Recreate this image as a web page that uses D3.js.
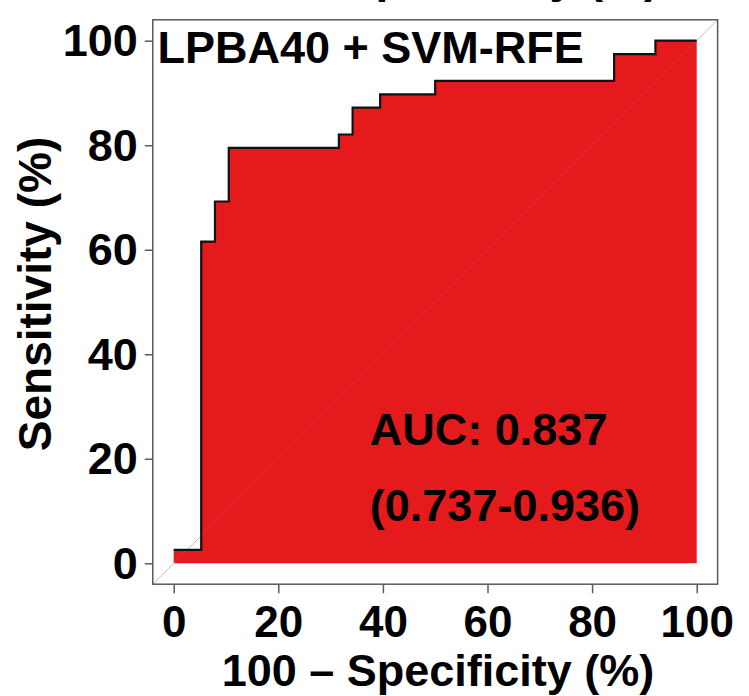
<!DOCTYPE html>
<html>
<head>
<meta charset="utf-8">
<script src="https://cdn.jsdelivr.net/npm/d3@7"></script>
<style>
  body { margin: 0; background: #fff; }
  text { font-family: "Liberation Sans", Arial, sans-serif; font-weight: bold; }
</style>
</head>
<body>
<svg id="chart"></svg>
<script>
// Overall dimension of the canvas
const width = 749;
const height = 696;

// ROC curve (percent), step after each point
const fprPct = [0, 5.26, 7.89, 10.53, 31.58, 34.21, 39.47, 50.00, 84.21, 92.11, 100];
const tprPct = [2.56, 61.54, 69.23, 79.49, 82.05, 87.18, 89.74, 92.31, 97.44, 100, 100];

// Tick labels
const xTicks = [0, 20, 40, 60, 80, 100];
const yTicks = [0, 20, 40, 60, 80, 100];

// Annotations
const panelTitle = "LPBA40 + SVM-RFE";
const aucLines = ["AUC: 0.837", "(0.737-0.936)"];
const xTitle = "100 \u2013 Specificity (%)";
const yTitle = "Sensitivity (%)";

// Plot region (R style: 4% padding around 0..100)
let plotLeft = 173.7, plotRight = 696.7, plotTop = 40.7, plotBottom = 563.3;

var x = d3.scaleLinear().domain([0, 100]).range([plotLeft, plotRight]);
var y = d3.scaleLinear().domain([0, 100]).range([plotBottom, plotTop]);

const svg = d3.select("#chart")
    .attr("width", width)
    .attr("height", height);

svg.append("rect")
    .attr("width", width)
    .attr("height", height)
    .attr("fill", "#fff");

// descenders of the x title from the panel above peeking in at the top
svg.append("text")
    .attr("x", (plotLeft + plotRight) / 2 + 3)
    .attr("y", -8)
    .attr("text-anchor", "middle")
    .style("font-size", "46px")
    .text(xTitle);

// diagonal reference line across the whole box
svg.append("line")
    .attr("x1", x(-4)).attr("y1", y(-4))
    .attr("x2", x(104)).attr("y2", y(104))
    .attr("stroke", "#bdbdbd")
    .attr("stroke-width", 1);

const rocData = fprPct.map((d, i) => ({ fpr: d, tpr: tprPct[i] }));

// filled area under the curve
svg.append("path")
    .datum(rocData)
    .attr("fill", "#e41a1c")
    .attr("d", d3.area()
        .curve(d3.curveStepAfter)
        .x(d => x(d.fpr))
        .y0(y(0))
        .y1(d => y(d.tpr)));

// faint seam of the diagonal through the fill
svg.append("line")
    .attr("x1", x(-4)).attr("y1", y(-4))
    .attr("x2", x(104)).attr("y2", y(104))
    .attr("stroke", "#ffffff")
    .attr("stroke-opacity", 0.12)
    .attr("stroke-width", 1);

// the ROC step line
svg.append("path")
    .datum(rocData)
    .attr("fill", "none")
    .attr("stroke", "#111")
    .attr("stroke-width", 2.2)
    .attr("d", d3.line()
        .curve(d3.curveStepAfter)
        .x(d => x(d.fpr))
        .y(d => y(d.tpr)));

// box
svg.append("rect")
    .attr("x", x(-4))
    .attr("y", y(104))
    .attr("width", x(104) - x(-4))
    .attr("height", y(-4) - y(104))
    .attr("fill", "none")
    .attr("stroke", "#5a5a5a")
    .attr("stroke-width", 1.5);

// X axis
const xAxis = svg.append("g")
    .attr("transform", "translate(0," + y(-4) + ")")
    .call(d3.axisBottom(x).tickValues(xTicks).tickSize(9).tickPadding(13).tickFormat(d3.format("d")));
xAxis.select(".domain").remove();
xAxis.selectAll(".tick line").attr("stroke", "#5a5a5a").attr("stroke-width", 1.5);
xAxis.selectAll(".tick text")
    .attr("fill", "#000")
    .style("font-size", "44px")
    .attr("dy", "0.71em");

// Y axis
const yAxis = svg.append("g")
    .attr("transform", "translate(" + x(-4) + ",0)")
    .call(d3.axisLeft(y).tickValues(yTicks).tickSize(8).tickPadding(7).tickFormat(d3.format("d")));
yAxis.select(".domain").remove();
yAxis.selectAll(".tick line").attr("stroke", "#5a5a5a").attr("stroke-width", 1.5);
yAxis.selectAll(".tick text")
    .attr("fill", "#000")
    .style("font-size", "45px")
    .attr("dy", "0.33em");

// axis titles
svg.append("text")
    .attr("x", 438)
    .attr("y", 686)
    .attr("text-anchor", "middle")
    .style("font-size", "45px")
    .text(xTitle);

svg.append("text")
    .attr("transform", "translate(51,294) rotate(-90)")
    .attr("text-anchor", "middle")
    .style("font-size", "46px")
    .text(yTitle);

// panel title
svg.append("text")
    .attr("x", x(-3.1))
    .attr("y", y(95.8))
    .style("font-size", "45px")
    .text(panelTitle);

// AUC annotation
svg.selectAll(".auc")
    .data(aucLines)
    .enter()
    .append("text")
    .attr("class", "auc")
    .attr("x", x(37.5))
    .attr("y", (d, i) => y(i === 0 ? 22.6 : 8.15))
    .style("font-size", "45px")
    .text(d => d);
</script>
</body>
</html>
